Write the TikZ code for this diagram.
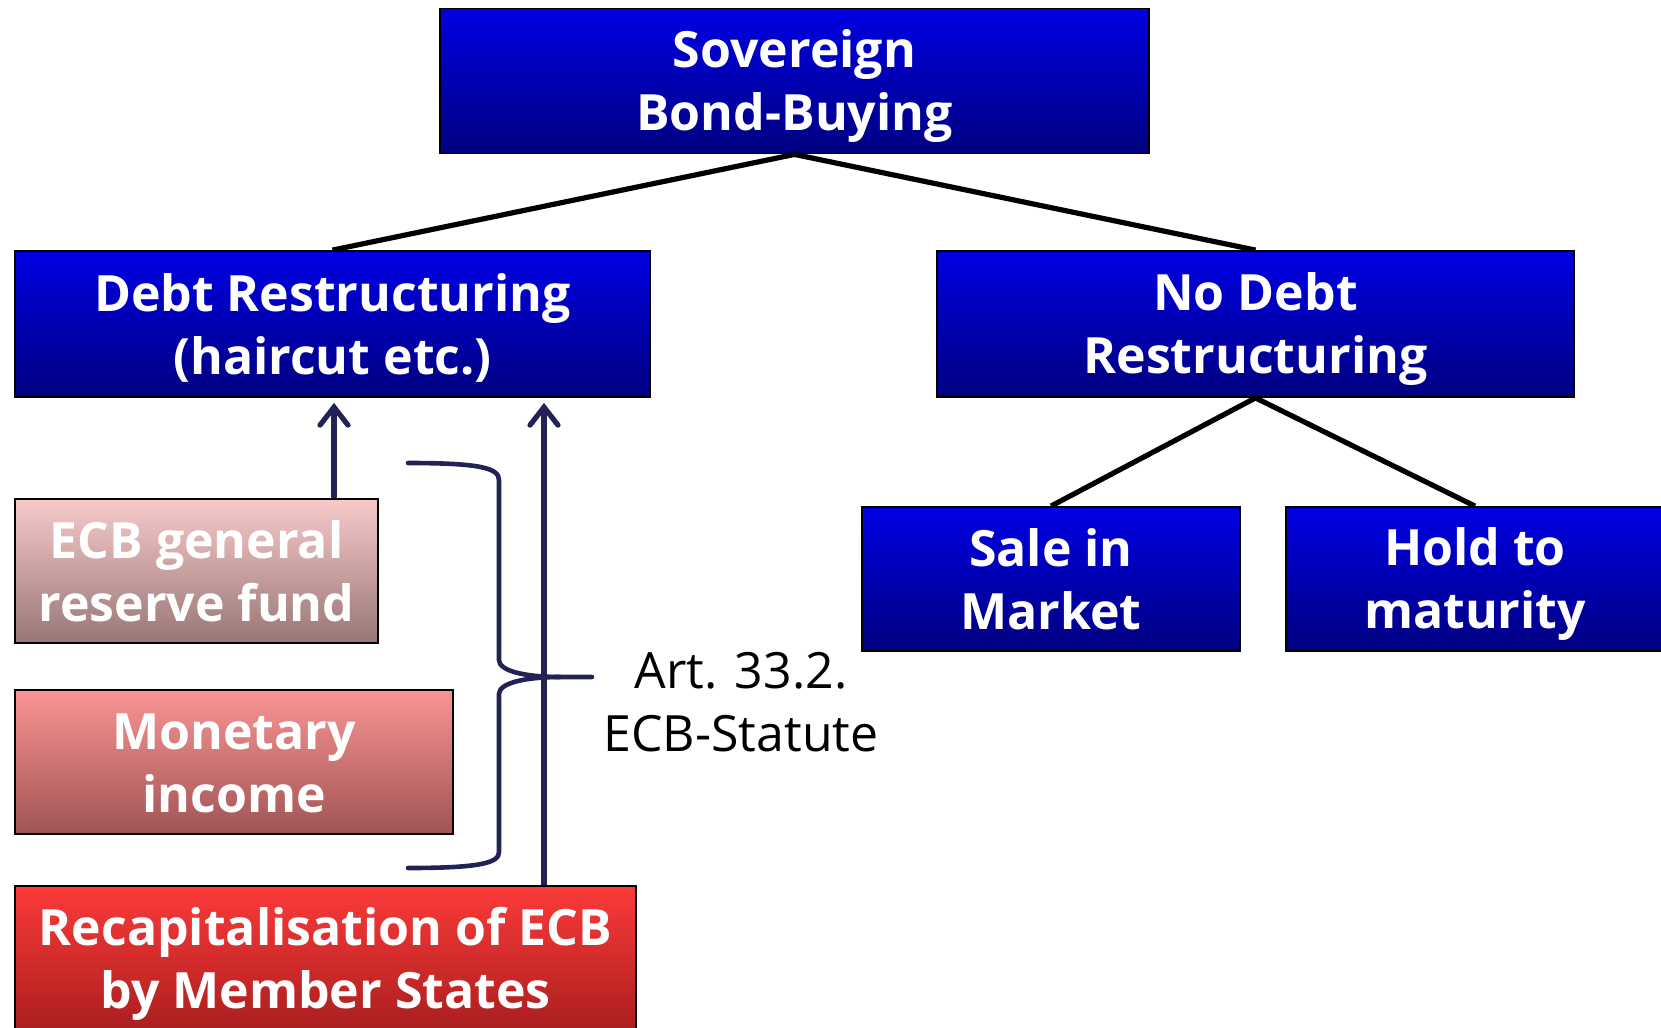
\documentclass[tikz,border=0pt]{standalone}
\usepackage{fontspec}
\setmainfont{Open Sans}
\usetikzlibrary{arrows.meta}
\definecolor{blueTop}{RGB}{0,0,228}
\definecolor{blueBot}{RGB}{0,0,128}
\definecolor{resTop}{RGB}{248,202,202}
\definecolor{resBot}{RGB}{152,118,118}
\definecolor{monTop}{RGB}{250,148,148}
\definecolor{monBot}{RGB}{160,84,84}
\definecolor{recTop}{RGB}{252,58,58}
\definecolor{recBot}{RGB}{170,30,30}
\definecolor{navyline}{RGB}{34,34,84}
\newcommand{\twolines}[2]{\rule{0pt}{24pt}#1\\#2\rule[-5pt]{0pt}{5pt}}
\begin{document}
\begin{tikzpicture}[x=0.5pt,y=-0.5pt,
  box/.style={draw=black, line width=0.9pt, inner sep=0pt, align=center, text=white,
    font=\fontsize{25}{31.5}\selectfont\bfseries},
  bluebox/.style={box, top color=blueTop, bottom color=blueBot},
  resbox/.style={box, top color=resTop, bottom color=resBot},
  monbox/.style={box, top color=monTop, bottom color=monBot},
  recbox/.style={box, top color=recTop, bottom color=recBot},
  conn/.style={draw=black, line width=2.6pt},
  arr/.style={draw=navyline, line width=2.6pt, -{Straight Barb[length=9pt,width=14pt,line cap=round]}},
  bracestyle/.style={draw=navyline, line width=2.3pt},
  arttext/.style={align=center, text=black, font=\fontsize{25}{31.5}\selectfont}
]
\useasboundingbox (0,0) rectangle (1661,1028);
\clip (0,0) rectangle (1661,1028);

\node[bluebox, minimum width=354.5pt, minimum height=72.5pt] (top) at (794.5,81) {\twolines{Sovereign}{Bond-Buying}};
\node[bluebox, minimum width=317.5pt, minimum height=73pt] (debt) at (332.5,324) {\twolines{Debt Restructuring}{(haircut etc.)}};
\node[bluebox, minimum width=318.5pt, minimum height=73pt] (nodebt) at (1255.5,324) {\twolines{No Debt}{Restructuring}};
\node[bluebox, minimum width=189pt, minimum height=72pt] (sale) at (1051,579) {\twolines{Sale in}{Market}};
\node[bluebox, minimum width=189pt, minimum height=72pt] (hold) at (1475,579) {\twolines{Hold to}{maturity}};

\node[resbox, minimum width=181.5pt, minimum height=72pt] (reserve) at (196.5,571) {\twolines{ECB general}{reserve fund}};
\node[monbox, minimum width=219pt, minimum height=72pt] (monetary) at (234,762) {\twolines{Monetary}{income}};
\node[recbox, minimum width=310.5pt, minimum height=72.5pt] (recap) at (325.5,958.5) {\twolines{Recapitalisation of ECB}{by Member States}};

\node[arttext] (art) at (741,702) {Art. 33.2.\\ECB-Statute};

\draw[conn] (top.south) -- (debt.north);
\draw[conn] (top.south) -- (nodebt.north);
\draw[conn] (nodebt.south) -- (sale.north);
\draw[conn] (nodebt.south) -- (hold.north);

\coordinate (ax1) at (334,0);
\coordinate (ax2) at (544,0);
\draw[arr, shorten >=2.5pt] (reserve.north -| ax1) -- (debt.south -| ax1);
\draw[arr, shorten >=2.5pt] (recap.north -| ax2) -- (debt.south -| ax2);

\coordinate (btip) at (592,677);
\draw[bracestyle, line cap=round] (408,463) .. controls (480,463) and (499,468) .. (499,480)
  -- (499,660) .. controls (499,671) and (525,677) .. (560,677) -- (btip);
\draw[bracestyle, line cap=round] (560,677) .. controls (525,677) and (499,683) .. (499,694)
  -- (499,852) .. controls (499,863) and (480,868) .. (408,868);
\end{tikzpicture}
\end{document}
